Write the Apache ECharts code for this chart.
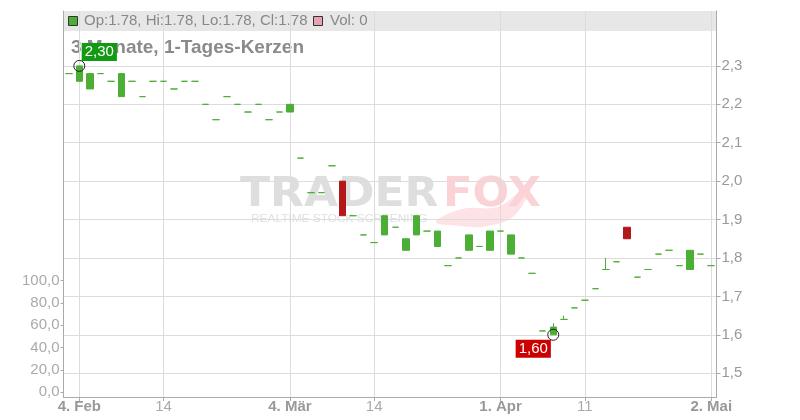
<!DOCTYPE html>
<html><head><meta charset="utf-8">
<script src="https://cdn.jsdelivr.net/npm/echarts@6/dist/echarts.min.js"></script>
<style>html,body{margin:0;padding:0;background:#fff}#c{width:800px;height:420px}</style>
</head><body><div id="c"></div>
<script>
const dates = ['2019-02-01','2019-02-04','2019-02-05','2019-02-06','2019-02-07','2019-02-08',
 '2019-02-11','2019-02-12','2019-02-13','2019-02-14','2019-02-15',
 '2019-02-18','2019-02-19','2019-02-20','2019-02-21','2019-02-22',
 '2019-02-25','2019-02-26','2019-02-27','2019-02-28','2019-03-01',
 '2019-03-04','2019-03-05','2019-03-06','2019-03-07','2019-03-08',
 '2019-03-11','2019-03-12','2019-03-13','2019-03-14','2019-03-15',
 '2019-03-18','2019-03-19','2019-03-20','2019-03-21','2019-03-22',
 '2019-03-25','2019-03-26','2019-03-27','2019-03-28','2019-03-29',
 '2019-04-01','2019-04-02','2019-04-03','2019-04-04','2019-04-05',
 '2019-04-08','2019-04-09','2019-04-10','2019-04-11','2019-04-12',
 '2019-04-15','2019-04-16','2019-04-17','2019-04-18',
 '2019-04-23','2019-04-24','2019-04-25','2019-04-26',
 '2019-04-29','2019-04-30','2019-05-02'];
const opens = [2.28,2.26,2.24,2.28,2.26,2.22,2.26,2.22,2.26,2.26,
 2.24,2.26,2.26,2.20,2.16,2.22,2.20,2.18,2.20,2.16,
 2.18,2.18,2.06,1.97,1.97,2.04,2.00,1.91,1.86,1.84,
 1.86,1.88,1.82,1.86,1.87,1.83,1.78,1.80,1.82,1.83,
 1.82,1.87,1.81,1.80,1.76,1.61,1.60,1.64,1.67,1.69,
 1.72,1.77,1.79,1.88,1.75,1.77,1.81,1.82,1.78,1.77,
 1.81,1.78];
const closes = [2.28,2.30,2.28,2.28,2.26,2.28,2.26,2.22,2.26,2.26,
 2.24,2.26,2.26,2.20,2.16,2.22,2.20,2.18,2.20,2.16,
 2.18,2.20,2.06,1.97,1.97,2.04,1.91,1.91,1.86,1.84,
 1.91,1.88,1.85,1.91,1.87,1.87,1.78,1.80,1.86,1.83,
 1.87,1.87,1.86,1.80,1.76,1.61,1.62,1.64,1.67,1.69,
 1.72,1.77,1.79,1.85,1.75,1.77,1.81,1.82,1.78,1.82,
 1.81,1.78];
const lows = [2.28,2.26,2.24,2.28,2.26,2.22,2.26,2.22,2.26,2.26,
 2.24,2.26,2.26,2.20,2.16,2.22,2.20,2.18,2.20,2.16,
 2.18,2.18,2.06,1.97,1.97,2.04,1.91,1.91,1.86,1.84,
 1.86,1.88,1.82,1.86,1.87,1.83,1.78,1.80,1.82,1.83,
 1.82,1.87,1.81,1.80,1.76,1.61,1.60,1.64,1.67,1.69,
 1.72,1.77,1.79,1.85,1.75,1.77,1.81,1.82,1.78,1.77,
 1.81,1.78];
const highs = [2.28,2.30,2.28,2.28,2.26,2.28,2.26,2.22,2.26,2.26,
 2.24,2.26,2.26,2.20,2.16,2.22,2.20,2.18,2.20,2.16,
 2.18,2.20,2.06,1.97,1.97,2.04,2.00,1.91,1.86,1.84,
 1.91,1.88,1.85,1.91,1.87,1.87,1.78,1.80,1.86,1.83,
 1.87,1.87,1.86,1.80,1.76,1.61,1.63,1.65,1.67,1.69,
 1.72,1.80,1.79,1.88,1.75,1.77,1.81,1.82,1.78,1.82,
 1.81,1.78];
const volumes = dates.map(() => 0);
const tickIndex = [1, 9, 21, 29, 41, 49, 61];
const tickLabels = ['4. Feb', '14', '4. Mär', '14', '1. Apr', '11', '2. Mai'];
const tickBold = [true, false, true, false, true, false, true];
const priceTicks = [1.5, 1.6, 1.7, 1.8, 1.9, 2.0, 2.1, 2.2, 2.3];
const volTicks = [0, 20, 40, 60, 80, 100];
const chartTitle = '3 Monate, 1-Tages-Kerzen';

const GREEN = '#4cae34', RED = '#b4171a';
const fmt = (v, d) => v.toFixed(d).replace('.', ',');
const last = dates.length - 1;
const candleData = dates.map((d, i) => {
  const v = [opens[i], closes[i], lows[i], highs[i]];
  return closes[i] < opens[i]
    ? { value: v, itemStyle: { color0: RED, borderColor0: RED } }
    : v;
});
let maxIdx = 0, minIdx = 0;
highs.forEach((h, i) => { if (h > highs[maxIdx]) maxIdx = i; });
lows.forEach((l, i) => { if (l < lows[minIdx]) minIdx = i; });

const FONT = '"Liberation Sans", Arial, sans-serif';
const chart = echarts.init(document.getElementById('c'), null, { renderer: 'canvas' });
chart.setOption({
  animation: false,
  textStyle: { fontFamily: FONT },
  grid: [
    { left: 63.5, right: 83.5, top: 11, bottom: 23 },
    { left: 63.5, right: 83.5, top: 280.7, bottom: 27.7 }
  ],
  xAxis: [
    { type: 'category', gridIndex: 0, data: dates, boundaryGap: true,
      axisLine: { lineStyle: { color: '#aaa' } },
      axisTick: { show: true, alignWithLabel: true, length: 4, interval: (i) => tickIndex.includes(i), lineStyle: { color: '#aaa' } },
      axisLabel: { interval: (i) => tickIndex.includes(i), margin: 2, fontSize: 15,
        formatter: (v, i) => { const k = tickIndex.indexOf(i); return k < 0 ? '' : (tickBold[k] ? '{b|' : '{n|') + tickLabels[k] + '}'; },
        rich: { b: { fontWeight: 'bold', color: '#999', fontSize: 15, fontFamily: FONT }, n: { color: '#aaa', fontSize: 15, fontFamily: FONT } } },
      splitLine: { show: false } },
    { type: 'category', gridIndex: 1, data: dates, show: false }
  ],
  yAxis: [
    { type: 'value', gridIndex: 0, position: 'right', min: 1.438, max: 2.443, splitNumber: 10,
      axisLine: { show: true, lineStyle: { color: '#aaa' } },
      axisTick: { show: true, length: 4, customValues: priceTicks, lineStyle: { color: '#aaa' } },
      axisLabel: { color: '#999', fontSize: 15, margin: 5, customValues: priceTicks,
        formatter: (v) => fmt(v, 1) },
      splitLine: { show: true, lineStyle: { color: '#dcdcdc' } } },
    { type: 'value', gridIndex: 0, position: 'left', min: 0, max: 1,
      axisLine: { show: true, lineStyle: { color: '#aaa' } },
      axisTick: { show: false }, axisLabel: { show: false }, splitLine: { show: false } },
    { type: 'value', gridIndex: 1, position: 'left', min: 0, max: 100, interval: 20,
      axisLine: { show: true, lineStyle: { color: '#aaa' } },
      axisTick: { show: true, length: 3, customValues: volTicks, lineStyle: { color: '#aaa' } },
      axisLabel: { color: '#aaa', fontSize: 15, margin: 4, customValues: volTicks, formatter: (v) => fmt(v, 1) },
      splitLine: { show: false } }
  ],
  series: [
    { type: 'line', xAxisIndex: 0, yAxisIndex: 0, data: [], silent: true,
      markLine: { silent: true, z: 1, symbol: 'none', label: { show: false }, animation: false,
        lineStyle: { color: '#dcdcdc', type: 'solid', width: 1 },
        data: tickIndex.map(i => ({ xAxis: dates[i] })) } },
    { type: 'bar', xAxisIndex: 1, yAxisIndex: 2, data: volumes, itemStyle: { color: '#e8a3b3' } },
    { type: 'candlestick', xAxisIndex: 0, yAxisIndex: 0, barWidth: 7, data: candleData, z: 3,
      itemStyle: { color: GREEN, color0: GREEN, borderColor: GREEN, borderColor0: GREEN, borderColorDoji: GREEN, borderWidth: 1 },
      markPoint: { symbol: 'circle', symbolSize: 11, silent: true, animation: false,
        itemStyle: { color: 'rgba(255,255,255,0)', borderColor: '#222', borderWidth: 1 },
        data: [
          { coord: [dates[maxIdx], highs[maxIdx]],
            label: { show: true, position: 'inside', offset: [20, -14], formatter: fmt(highs[maxIdx], 2),
              color: '#fff', fontSize: 15, backgroundColor: '#129a12', padding: [2, 3, 1, 3] } },
          { coord: [dates[minIdx], lows[minIdx]],
            label: { show: true, position: 'inside', offset: [-20, 14], formatter: fmt(lows[minIdx], 2),
              color: '#fff', fontSize: 15, backgroundColor: '#cc0000', padding: [2, 3, 1, 3] } }
        ] } }
  ],
  graphic: [
    { type: 'polygon', z: -11, shape: { points: [[436,222],[462,209],[500,206],[532,180],[516,214],[488,226],[460,226]], smooth: 0.4 },
      style: { fill: '#fde3e6' } },
    { type: 'text', z: -10, x: 240, y: 176, scaleX: 1.1, style: { text: 'TRADER', fill: '#dedede', font: 'bold 40px "DejaVu Sans"', verticalAlign: 'top' } },
    { type: 'text', z: -10, x: 443, y: 176, scaleX: 1.08, style: { text: 'FOX', fill: '#fbd3d7', font: 'bold 40px "DejaVu Sans"', verticalAlign: 'top' } },
    { type: 'text', z: -10, x: 251, y: 213, scaleX: 1.08, style: { text: 'REALTIME STOCK SCREENING', fill: '#e0e0e0', font: '11px "Liberation Sans"', verticalAlign: 'top' } },
    { type: 'rect', z: 0, shape: { x: 63.5, y: 11, width: 652.5, height: 20 }, style: { fill: 'rgba(225,225,225,0.8)' } },
    { type: 'rect', z: 1, shape: { x: 68.5, y: 16.5, width: 9, height: 9 }, style: { fill: GREEN, stroke: '#333', lineWidth: 1 } },
    { type: 'text', z: 1, left: 84, top: 13, style: { text: 'Op:' + opens[last] + ', Hi:' + highs[last] + ', Lo:' + lows[last] + ', Cl:' + closes[last], fill: '#888', font: '15px "Liberation Sans"' } },
    { type: 'rect', z: 1, shape: { x: 313.5, y: 16.5, width: 9, height: 9 }, style: { fill: '#e8a3b3', stroke: '#333', lineWidth: 1 } },
    { type: 'text', z: 1, left: 330, top: 13, style: { text: 'Vol: ' + volumes[last], fill: '#888', font: '15px "Liberation Sans"' } },
    { type: 'text', z: 1, left: 71, top: 38, style: { text: chartTitle, fill: '#8a8a8a', font: 'bold 19px "Liberation Sans"' } }
  ]
});
</script>
</body></html>
